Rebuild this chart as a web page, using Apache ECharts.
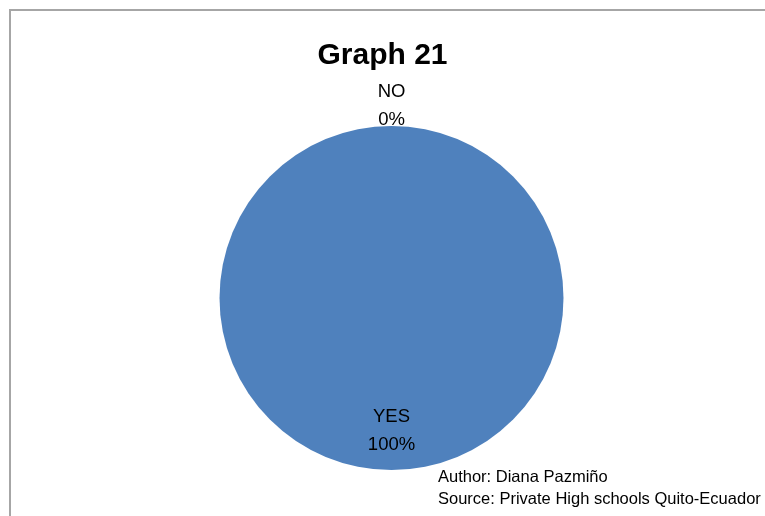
<!DOCTYPE html>
<html>
<head>
<meta charset="utf-8">
<script src="https://cdn.jsdelivr.net/npm/echarts@6/dist/echarts.min.js"></script>
<style>
  html, body { margin: 0; padding: 0; background: #fff; }
  #chart { width: 765px; height: 516px; }
</style>
</head>
<body>
<div id="chart"></div>
<script>
// Survey answers and their counts
const categories = ['NO', 'YES'];
const values = [0, 100];
const sliceColors = ['#C0504D', '#4F81BD'];
const chartTitle = 'Graph 21';
const footnotes = ['Author: Diana Pazmiño', 'Source: Private High schools Quito-Ecuador'];

const FONT = '"Liberation Sans", Arial, sans-serif';

const chart = echarts.init(document.getElementById('chart'), null, { renderer: 'canvas' });

chart.setOption({
  animation: false,
  backgroundColor: '#ffffff',
  title: [
    {
      text: chartTitle,
      left: 'center',
      top: 36,
      textStyle: { fontFamily: FONT, fontSize: 30, fontWeight: 'bold', color: '#000' }
    },
    {
      text: footnotes.join('\n'),
      left: 433,
      top: 461,
      textStyle: { fontFamily: FONT, fontSize: 16.5, fontWeight: 'normal', color: '#000', lineHeight: 22.5 }
    }
  ],
  graphic: [
    {
      type: 'polyline',
      shape: { points: [[10, 516], [10, 10], [765, 10]] },
      style: { stroke: '#a6a6a6', lineWidth: 2, fill: null },
      silent: true
    }
  ],
  series: [
    {
      type: 'pie',
      center: [391.5, 298],
      radius: [0, 172],
      startAngle: 90,
      clockwise: true,
      avoidLabelOverlap: false,
      minShowLabelAngle: 0,
      stillShowZeroSum: true,
      itemStyle: { borderWidth: 0 },
      label: {
        show: true,
        position: 'inside',
        formatter: '{b}\n{d}%',
        fontFamily: FONT,
        fontSize: 18.5,
        lineHeight: 28,
        color: '#000',
        align: 'center'
      },
      labelLine: { show: false },
      labelLayout: function (p) {
        return p.dataIndex === 0 ? { dy: -103 } : { dy: 44 };
      },
      data: categories.map((name, i) => ({
        name: name,
        value: values[i],
        itemStyle: { color: sliceColors[i] }
      }))
    }
  ]
});
</script>
</body>
</html>
